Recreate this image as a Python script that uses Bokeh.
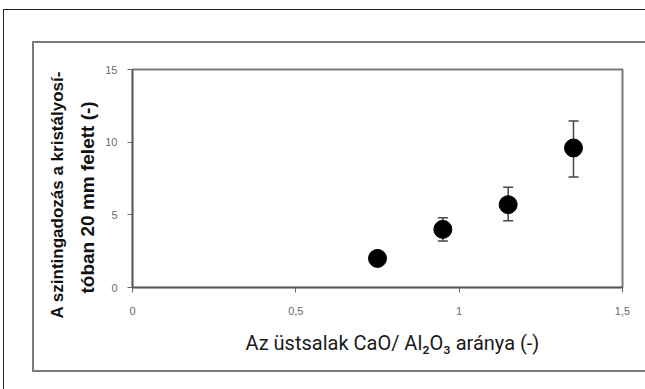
from bokeh.plotting import figure
from bokeh.models import (Whisker, TeeHead, ColumnDataSource, FixedTicker, Range1d,
                          Title, InlineStyleSheet)
from bokeh.embed import file_html
from bokeh.resources import INLINE

# ---- data ----
ratio = [0.75, 0.95, 1.15, 1.35]
fluct = [2.0, 4.0, 5.7, 9.6]
err_low = [2.0, 3.2, 4.6, 7.6]
err_high = [2.0, 4.8, 6.9, 11.45]
x_ticks = [0, 0.5, 1, 1.5]
x_tick_labels = ["0", "0,5", "1", "1,5"]
y_ticks = [0, 5, 10, 15]
y_title_lines = ["A szintingadozás a kristályosí-", "tóban 20 mm felett (-)"]
x_title = "Az üstsalak CaO/ Al\u2082O\u2083 aránya (-)"

W, H = 645, 389

frame_css = InlineStyleSheet(css="""
:host { position: relative; }
:host::before { content: ""; position: absolute; left: 3px; top: 9px; width: 642px; height: 380px;
  box-sizing: border-box; border-left: 1.5px solid #222; border-top: 1.5px solid #222;
  pointer-events: none; z-index: 10; }
:host::after { content: ""; position: absolute; left: 32px; top: 41px; width: 613px; height: 331px;
  box-sizing: border-box; border-left: 2px solid #7a7a7a; border-top: 2px solid #7a7a7a;
  border-bottom: 2px solid #7a7a7a; pointer-events: none; z-index: 10; }
""")

p = figure(width=W, height=H, x_range=Range1d(0, 1.5), y_range=Range1d(0, 15),
           output_backend="svg", toolbar_location=None,
           min_border_left=132, min_border_right=23, min_border_top=69,
           min_border_bottom=102, stylesheets=[frame_css])
p.background_fill_color = "white"
p.border_fill_color = "white"
p.grid.visible = False
p.outline_line_color = "#7a7a7a"
p.outline_line_width = 2

for ax in (p.xaxis[0], p.yaxis[0]):
    ax.axis_line_color = "#555555"
    ax.axis_line_width = 1.5
    ax.major_tick_line_color = "#666666"
    ax.major_tick_line_width = 1
    ax.major_tick_in = 0
    ax.major_tick_out = 5
    ax.minor_tick_line_color = None
    ax.major_label_text_color = "#6a6a6a"
    ax.major_label_text_font = "Liberation Sans"
    ax.major_label_text_font_size = "11px"

p.xaxis.ticker = FixedTicker(ticks=x_ticks)
p.xaxis.major_label_overrides = {t: l for t, l in zip(x_ticks, x_tick_labels)}
p.xaxis.major_label_standoff = 14
p.yaxis.ticker = FixedTicker(ticks=y_ticks)
p.yaxis.major_label_standoff = 10

# axis titles as side titles (positioned with align/offset)
t2 = Title(text=y_title_lines[1], align="left", offset=-6, standoff=9,
           text_font="Liberation Sans", text_font_style="bold",
           text_font_size="19px", text_color="#111111")
t1 = Title(text=y_title_lines[0], align="left", offset=-31, standoff=8,
           text_font="Liberation Sans", text_font_style="bold",
           text_font_size="17px", text_color="#111111")
p.add_layout(t2, "left")
p.add_layout(t1, "left")
tx = Title(text=x_title, align="left", offset=113, standoff=22,
           text_font="Roboto", text_font_style="normal",
           text_font_size="20px", text_color="#1a1a1a")
p.add_layout(tx, "below")

src = ColumnDataSource(dict(x=ratio, y=fluct, lo=err_low, hi=err_high))
w = Whisker(base="x", lower="lo", upper="hi", source=src, level="underlay",
            line_color="#444444", line_width=1.5,
            lower_head=TeeHead(size=10, line_color="#444444", line_width=1.5),
            upper_head=TeeHead(size=10, line_color="#444444", line_width=1.5))
p.add_layout(w)
p.scatter("x", "y", source=src, marker="circle", size=18, fill_color="black",
          line_color="black")

open("out.html", "w").write(file_html(p, INLINE))
